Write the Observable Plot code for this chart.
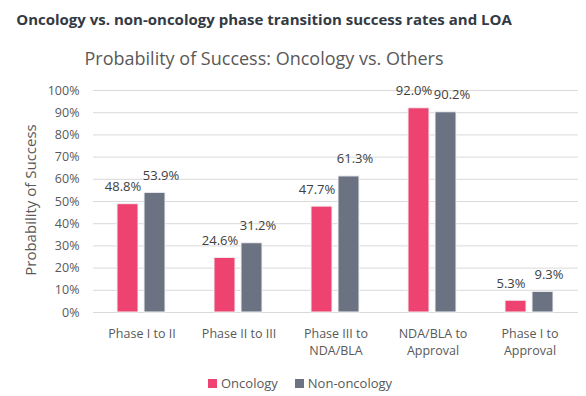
<!DOCTYPE html>
<html>
<head>
<meta charset="utf-8">
<script src="https://cdn.jsdelivr.net/npm/d3@7"></script>
<script src="https://cdn.jsdelivr.net/npm/@observablehq/plot@0.6"></script>
<style>
  body { margin: 0; background: #fff; font-family: "Open Sans", sans-serif; }
  #wrap { position: relative; width: 586px; height: 396px; overflow: hidden; }
  #title { position: absolute; left: 0; top: 9px; width: 528px; text-align: center; font-size: 15px; line-height: 20px; font-weight: 700; color: #333a44; white-space: nowrap; }
  #subtitle { position: absolute; left: 0; top: 46px; width: 528px; text-align: center; font-size: 18px; line-height: 24px; color: #595959; white-space: nowrap; }
  #ylabel { position: absolute; left: 30px; top: 200px; transform: translate(-50%, -50%) rotate(-90deg); font-size: 15px; line-height: 20px; color: #595959; white-space: nowrap; }
  #legend { position: absolute; left: 208px; top: 374px; font-size: 13px; line-height: 18px; color: #595959; display: flex; align-items: center; white-space: nowrap; }
  #legend .sw { display: inline-block; width: 9px; height: 9px; margin-right: 4px; }
  #legend .item { display: flex; align-items: center; margin-right: 17px; }
  #chart { position: absolute; left: 0; top: 0; }
</style>
</head>
<body>
<div id="wrap">
  <div id="chart"></div>
  <div id="title">Oncology vs. non-oncology phase transition success rates and LOA</div>
  <div id="subtitle">Probability of Success: Oncology vs. Others</div>
  <div id="ylabel">Probability of Success</div>
  <div id="legend"></div>
</div>
<script>
const categories = ["Phase I to II", "Phase II to III", "Phase III to NDA/BLA", "NDA/BLA to Approval", "Phase I to Approval"];
const categoryLabels = ["Phase I to II", "Phase II to III", "Phase III to\nNDA/BLA", "NDA/BLA to\nApproval", "Phase I to\nApproval"];
const series = ["Oncology", "Non-oncology"];
const oncology = [0.488, 0.246, 0.477, 0.920, 0.053];
const nonOncology = [0.539, 0.312, 0.613, 0.902, 0.093];
const yTicks = [0, 0.1, 0.2, 0.3, 0.4, 0.5, 0.6, 0.7, 0.8, 0.9, 1.0];
const colors = ["#ee4270", "#6b7383"];

const data = [];
categories.forEach((c, i) => {
  data.push({category: c, series: series[0], value: oncology[i]});
  data.push({category: c, series: series[1], value: nonOncology[i]});
});
const labelOf = new Map(categories.map((c, i) => [c, categoryLabels[i]]));

const chart = Plot.plot({
  width: 586,
  height: 396,
  marginTop: 90,
  marginBottom: 84,
  marginLeft: 93,
  marginRight: 8,
  style: {fontFamily: "'Open Sans', sans-serif", fontSize: "12.5px", color: "#595959", background: "transparent"},
  fx: {domain: categories, padding: 0},
  x: {domain: series, paddingInner: 0.222, paddingOuter: 0.907, axis: null},
  y: {domain: [0, 1]},
  color: {domain: series, range: colors},
  marks: [
    Plot.ruleY(yTicks, {stroke: "#d9d9d9", strokeWidth: 1}),
    Plot.barY(data, {fx: "category", x: "series", y: "value", fill: "series", stroke: "#f2f2f2", strokeWidth: 1}),
    Plot.text(data.filter(d => d.series === series[0]), {fx: "category", x: "series", y: "value", text: d => d3.format(".1%")(d.value), lineAnchor: "bottom", dy: -13, dx: -5, fill: "#404040", fontSize: 13}),
    Plot.text(data.filter(d => d.series === series[1]), {fx: "category", x: "series", y: "value", text: d => d3.format(".1%")(d.value), lineAnchor: "bottom", dy: -13, dx: 6, fill: "#404040", fontSize: 13}),
    Plot.axisY({ticks: yTicks, tickFormat: d3.format(".0%"), tickSize: 0, tickPadding: 14, label: null, fontSize: 12.5}),
    Plot.axisFx({anchor: "bottom", tickSize: 0, tickPadding: 14, label: null, tickFormat: d => labelOf.get(d), lineHeight: 1.35})
  ]
});
document.getElementById("chart").appendChild(chart);

const legend = document.getElementById("legend");
series.forEach((s, i) => {
  const item = document.createElement("span");
  item.className = "item";
  const sw = document.createElement("span");
  sw.className = "sw";
  sw.style.background = colors[i];
  item.appendChild(sw);
  item.appendChild(document.createTextNode(s));
  legend.appendChild(item);
});
</script>
</body>
</html>
